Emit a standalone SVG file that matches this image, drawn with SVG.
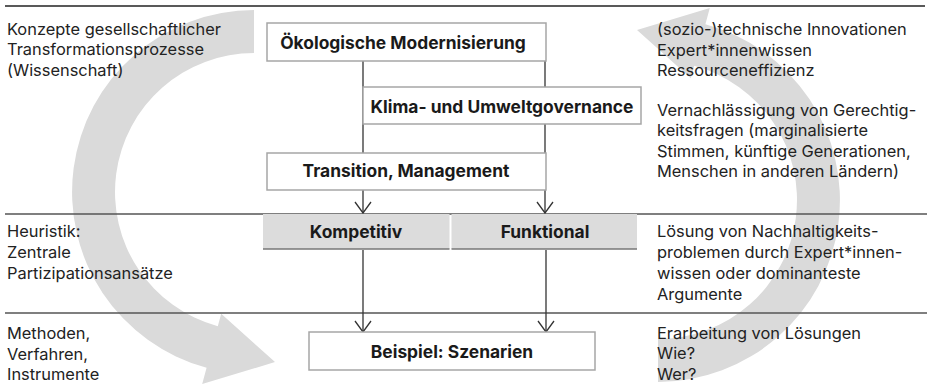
<svg xmlns="http://www.w3.org/2000/svg" width="927" height="388" viewBox="0 0 927 388">
  <style>
    .arc { fill: #dadada; stroke: none; }
    .rule { stroke: #555; stroke-width: 1.4; fill: none; }
    .rule-top { stroke: #222; stroke-width: 1.5; fill: none; }
    .txt { font-family: Inter, "Liberation Sans", sans-serif; font-size: 16.4px; fill: #222; }
    .lbl { font-family: Inter, "Liberation Sans", sans-serif; font-size: 17.4px; font-weight: bold; fill: #1a1a1a; text-anchor: middle; }
    .box { fill: #fff; stroke: #a6a6a6; stroke-width: 1.5; }
    .gbox { fill: #dcdcdc; stroke: none; }
    .gline { stroke: #777; stroke-width: 1.5; }
    .conn { stroke: #333; stroke-width: 1.3; fill: none; }
  </style>
  <defs>
    <marker id="chev" viewBox="-1 -10 13 20" refX="11" refY="0" markerWidth="13" markerHeight="20" markerUnits="userSpaceOnUse" orient="auto">
      <path d="M0,-8 L11,0 L0,8" fill="none" stroke="#333" stroke-width="1.3"/>
    </marker>
  </defs>

  <!-- big grey cycle arrows -->
  <g id="cycle-arrows">
    <path id="arcL" class="arc" d="M254,10 A182,182 0 0 0 206.6,367.7 L202.2,384.1 L275,362 L221.2,313.7 L217.8,326.2 A139,139 0 0 1 254,53 Z"/>
    <path id="arcR" class="arc" d="M658,382 A182,182 0 0 0 705.4,24.3 L709.8,7.9 L637,30 L690.8,78.3 L694.2,65.8 A139,139 0 0 1 658,339 Z"/>
  </g>

  <!-- horizontal rules -->
  <g id="rules">
    <line class="rule-top" x1="5" y1="6" x2="925" y2="6"/>
    <line class="rule" x1="5" y1="214" x2="927" y2="214"/>
    <line class="rule" x1="5" y1="313" x2="927" y2="313"/>
  </g>

  <!-- left column texts -->
  <g id="left-col" class="txt">
    <text x="7" y="34.5">Konzepte gesellschaftlicher</text>
    <text x="7" y="55">Transformationsprozesse</text>
    <text x="7" y="75.5">(Wissenschaft)</text>
    <text x="7" y="237">Heuristik:</text>
    <text x="7" y="258">Zentrale</text>
    <text x="7" y="279">Partizipationsansätze</text>
    <text x="7" y="339">Methoden,</text>
    <text x="7" y="359.5">Verfahren,</text>
    <text x="7" y="380">Instrumente</text>
  </g>

  <!-- right column texts -->
  <g id="right-col" class="txt">
    <text x="657" y="35">(sozio-)technische Innovationen</text>
    <text x="657" y="55.5">Expert*innenwissen</text>
    <text x="657" y="76">Ressourceneffizienz</text>
    <text x="657" y="115.5">Vernachlässigung von Gerechtig-</text>
    <text x="657" y="136">keitsfragen (marginalisierte</text>
    <text x="657" y="156.5">Stimmen, künftige Generationen,</text>
    <text x="657" y="177">Menschen in anderen Ländern)</text>
    <text x="657" y="237">Lösung von Nachhaltigkeits-</text>
    <text x="657" y="258">problemen durch Expert*innen-</text>
    <text x="657" y="279">wissen oder dominanteste</text>
    <text x="657" y="300">Argumente</text>
    <text x="657" y="338.5">Erarbeitung von Lösungen</text>
    <text x="657" y="359">Wie?</text>
    <text x="657" y="379.5">Wer?</text>
  </g>

  <!-- connectors -->
  <g id="connectors">
    <line class="conn" x1="363" y1="61" x2="363" y2="213" marker-end="url(#chev)"/>
    <line class="conn" x1="545" y1="61" x2="545" y2="213" marker-end="url(#chev)"/>
    <line class="conn" x1="363" y1="250" x2="363" y2="332" marker-end="url(#chev)"/>
    <line class="conn" x1="546" y1="250" x2="546" y2="332" marker-end="url(#chev)"/>
  </g>

  <!-- nodes -->
  <g id="node-oekologische-modernisierung">
    <rect class="box" x="267" y="23" width="279" height="38"/>
    <text class="lbl" x="403" y="49">Ökologische Modernisierung</text>
  </g>
  <g id="node-klima-umweltgovernance">
    <rect class="box" x="363" y="87" width="278" height="37"/>
    <text class="lbl" x="502" y="113">Klima- und Umweltgovernance</text>
  </g>
  <g id="node-transition-management">
    <rect class="box" x="267" y="153" width="279" height="37"/>
    <text class="lbl" x="406" y="177">Transition, Management</text>
  </g>
  <g id="node-kompetitiv">
    <rect class="gbox" x="263" y="214" width="186.5" height="35"/>
    <line class="gline" x1="263" y1="249" x2="449.5" y2="249"/>
    <text class="lbl" x="356" y="238">Kompetitiv</text>
  </g>
  <g id="node-funktional">
    <rect class="gbox" x="451.5" y="214" width="185.5" height="35"/>
    <line class="gline" x1="451.5" y1="249" x2="637" y2="249"/>
    <text class="lbl" x="545" y="238">Funktional</text>
  </g>
  <g id="node-beispiel-szenarien">
    <rect class="box" x="309" y="332" width="286" height="38"/>
    <text class="lbl" x="452" y="358">Beispiel: Szenarien</text>
  </g>
</svg>
